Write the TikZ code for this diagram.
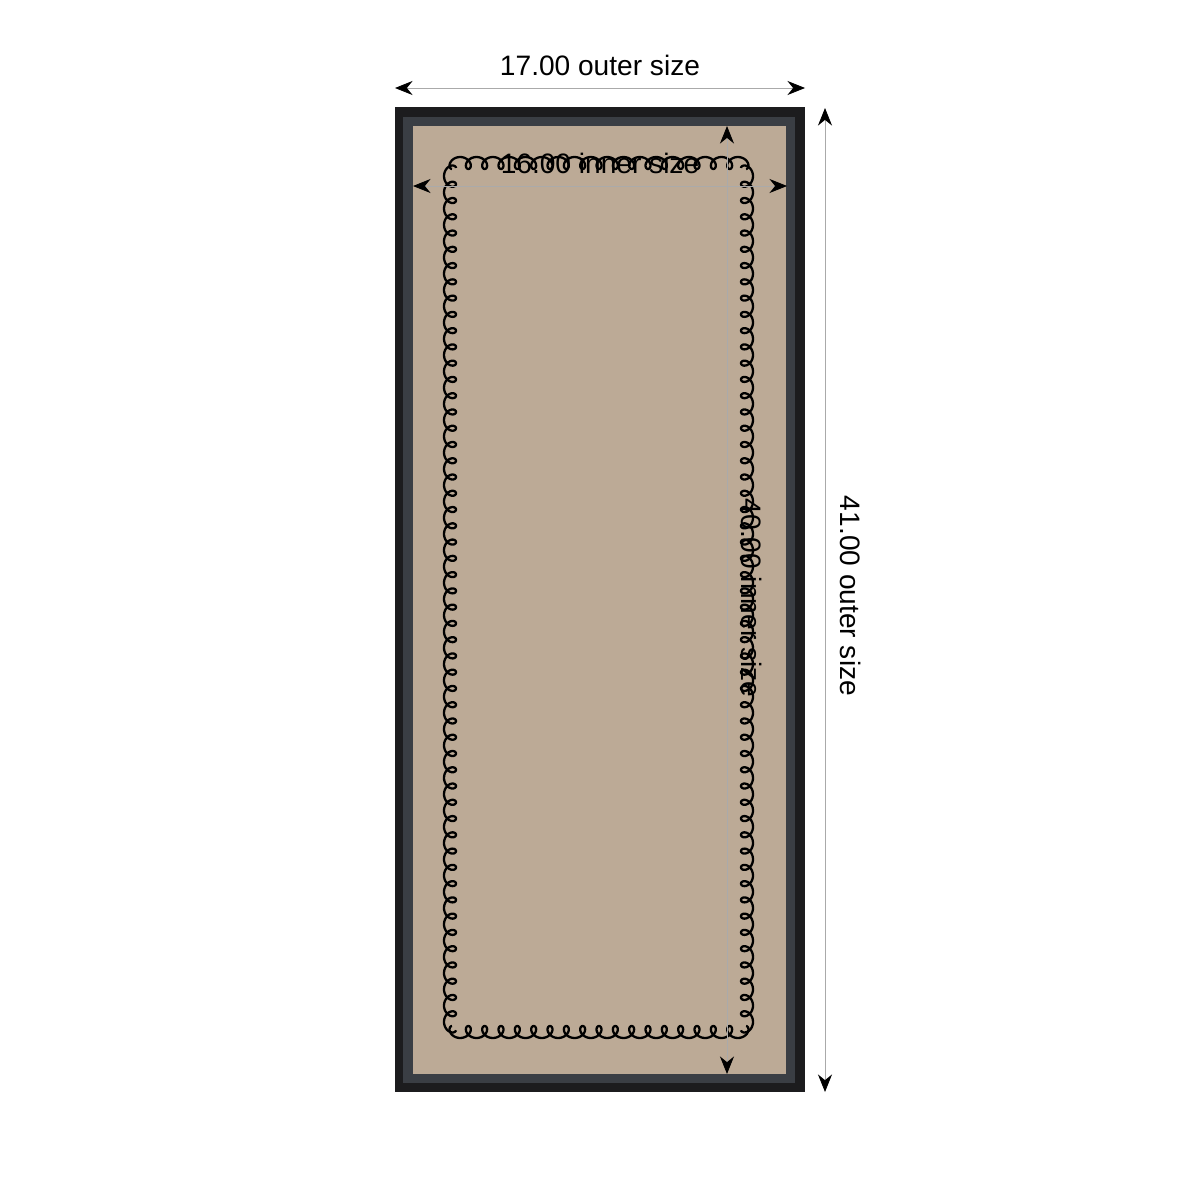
\documentclass[tikz,border=0pt]{standalone}
\usepackage{fontspec}
\setmainfont{Liberation Sans}
\usetikzlibrary{arrows.meta}

\definecolor{framebk}{RGB}{28,28,30}
\definecolor{bevel}{RGB}{58,62,68}
\definecolor{mat}{RGB}{188,170,150}
\definecolor{dimgray}{RGB}{170,170,170}

\begin{document}
\begin{tikzpicture}[x=0.02cm,y=-0.02cm]
			\tikzstyle{every node}+=[inner sep=0pt, font=\fontsize{16}{19}\selectfont]
			\tikzstyle{dimline}=[draw=dimgray, line width=0.5pt, {Stealth[black,length=10pt,width=8pt]}-{Stealth[black,length=10pt,width=8pt]}]
			\tikzstyle{loopline}=[black, line width=1.3pt, line join=round]
			\useasboundingbox (0,0) rectangle (1200,1200);
			% frame and mat
			\fill [framebk] (395,107) rectangle (805,1092);
			\fill [bevel] (403,117) rectangle (795,1083);
			\fill [mat] (413,126) rectangle (786,1074);
			% curly border (u counts loops)
			\draw [loopline] plot [domain=0:18, samples=433, variable=\u] ({452+16.333*\u-6*sin(mod(\u,1)*360)}, {163+6*cos(mod(\u,1)*360)});
			\draw [loopline] plot [domain=0:18, samples=433, variable=\u] ({452+16.333*\u-6*sin(mod(\u,1)*360)}, {1032-6*cos(mod(\u,1)*360)});
			\draw [loopline] plot [domain=0:53, samples=1273, variable=\u] ({450+6*cos(mod(\u,1)*360)}, {168+16.264*\u-6*sin(mod(\u,1)*360)});
			\draw [loopline] plot [domain=0:53, samples=1273, variable=\u] ({747-6*cos(mod(\u,1)*360)}, {168+16.264*\u-6*sin(mod(\u,1)*360)});
			% outer size
			\coordinate (ow-l) at (395,88);
			\coordinate (ow-r) at (805,88);
			\draw [dimline] (ow-l) -- (ow-r);
			\node (ow) at (600,65) {17.00 outer size};
			\coordinate (oh-t) at (825,108);
			\coordinate (oh-b) at (825,1092);
			\draw [dimline] (oh-t) -- (oh-b);
			\node [rotate=-90] (oh) at (851,596) {41.00 outer size};
			% inner size
			\coordinate (iw-l) at (413,186);
			\coordinate (iw-r) at (787,186);
			\draw [dimline] (iw-l) -- (iw-r);
			\node (iw) at (600,163) {16.00 inner size};
			\coordinate (ih-t) at (727,126);
			\coordinate (ih-b) at (727,1074);
			\draw [dimline] (ih-t) -- (ih-b);
			\node [rotate=-90] (ih) at (752,598) {40.00 inner size};
\end{tikzpicture}
\end{document}
